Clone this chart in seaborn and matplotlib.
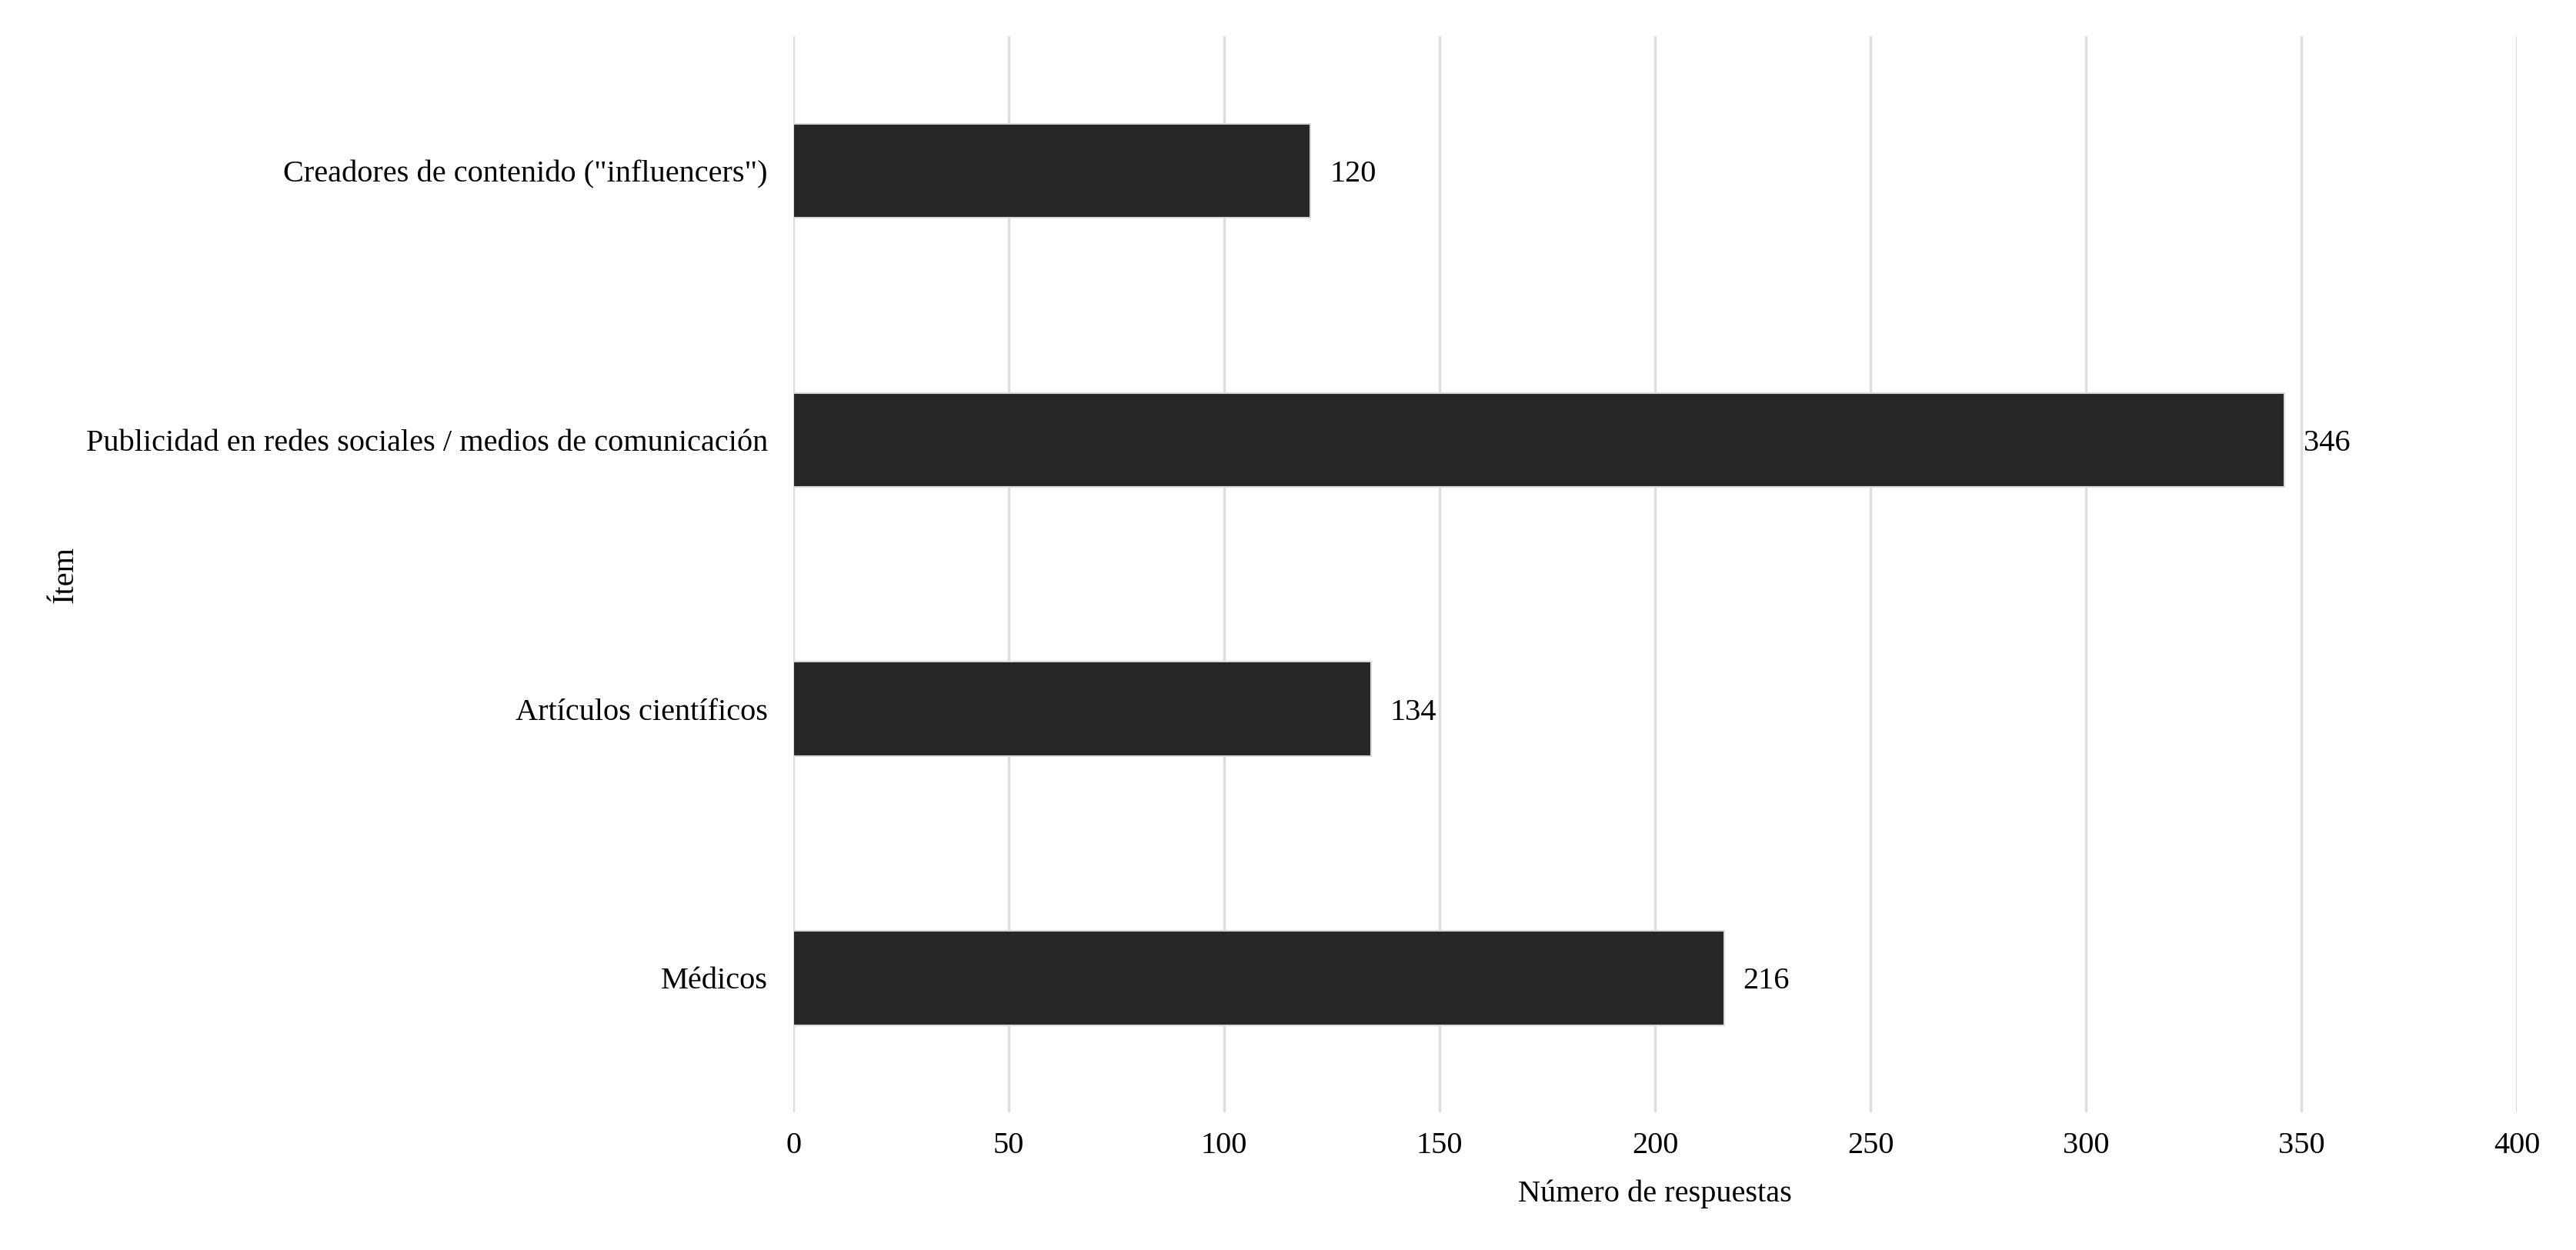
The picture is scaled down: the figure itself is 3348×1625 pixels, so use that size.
import matplotlib
matplotlib.use("Agg")
import matplotlib.pyplot as plt
import seaborn as sns
import pandas as pd

# datos
items = [
    'Creadores de contenido ("influencers")',
    "Publicidad en redes sociales / medios de comunicación",
    "Artículos científicos",
    "Médicos",
]
respuestas = [120, 346, 134, 216]
xticks = [0, 50, 100, 150, 200, 250, 300, 350, 400]

df = pd.DataFrame({"Ítem": items, "Número de respuestas": respuestas})

sns.set_theme(style="whitegrid")
plt.rcParams["font.family"] = ["Liberation Serif", "DejaVu Serif"]
plt.rcParams["font.size"] = 9.7

fig, ax = plt.subplots(figsize=(11.16, 5.4167), dpi=300)
fig.subplots_adjust(left=0.308, right=0.977, top=0.971, bottom=0.110)

sns.barplot(data=df, y="Ítem", x="Número de respuestas", color="#262626",
            width=0.35, edgecolor="#d9d9d9", linewidth=0.5, ax=ax, orient="h")

for c in ax.containers:
    etiquetas = ax.bar_label(c, padding=6, fontsize=9.7, color="black")
    for t in etiquetas:
        t.set_va("center_baseline")

ax.set_xlim(0, 400)
ax.set_xticks(xticks)
ax.set_ylim(3.5, -0.5)
ax.grid(axis="x", color="#dcdcdc", linewidth=0.8)
ax.grid(axis="y", visible=False)
for s in ax.spines.values():
    s.set_visible(False)
ax.tick_params(axis="both", length=0, labelsize=9.7, labelcolor="black")
ax.tick_params(axis="y", pad=8)
ax.tick_params(axis="x", pad=6)
for t in ax.get_yticklabels():
    t.set_va("center_baseline")
ax.set_xlabel("Número de respuestas", fontsize=9.7, color="black", labelpad=6)
ax.set_ylabel("Ítem", fontsize=9.7, color="black", labelpad=2)
ax.set_axisbelow(True)

fig.savefig("out.png", dpi=300, facecolor="white")
